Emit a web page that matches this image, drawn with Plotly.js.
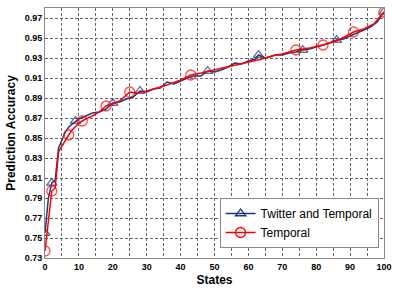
<!DOCTYPE html>
<html>
<head>
<meta charset="utf-8">
<script src="https://cdn.plot.ly/plotly-3.0.1.min.js"></script>
<style>html,body{margin:0;padding:0;background:#fff;}#chart{width:394px;height:291px;}</style>
</head>
<body>
<div id="chart"></div>
<script>
// Twitter and Temporal
const twX = [0,1,2,3,4,5,6,7,8,9,10,12,14,16,18,20,22,24,26,28,30,32,34,36,38,40,42,44,46,48,50,52,54,56,58,60,62,63,65,68,70,72,74,76,78,80,82,84,86,88,90,92,94,96,98,100];
const twY = [0.755,0.790,0.805,0.808,0.840,0.848,0.856,0.861,0.864,0.867,0.869,0.872,0.875,0.876,0.879,0.885,0.886,0.889,0.891,0.897,0.896,0.899,0.900,0.906,0.904,0.907,0.910,0.912,0.912,0.917,0.916,0.918,0.921,0.925,0.924,0.927,0.929,0.933,0.930,0.933,0.933,0.935,0.936,0.938,0.939,0.941,0.943,0.945,0.948,0.949,0.952,0.955,0.958,0.961,0.966,0.976];
const twMarked = [0,2,9,20,28,48,63,76,86,100];
// Temporal
const tpX = [0,1,2,3,4,5,6,7,8,9,10,11,12,14,16,18,20,22,24,25,27,30,33,36,40,43,46,50,54,57,60,64,68,70,74,78,82,86,90,91,94,97,100];
const tpY = [0.737,0.770,0.797,0.800,0.836,0.842,0.848,0.853,0.858,0.862,0.865,0.867,0.869,0.872,0.876,0.882,0.884,0.887,0.893,0.896,0.895,0.897,0.900,0.903,0.908,0.913,0.915,0.918,0.921,0.924,0.926,0.929,0.933,0.934,0.938,0.940,0.943,0.947,0.954,0.956,0.959,0.964,0.976];
const tpMarked = [0,2,7,11,18,25,43,74,82,91,100];

const xTitle = 'States';
const yTitle = 'Prediction Accuracy';
const names = ['Twitter and Temporal', 'Temporal'];

const blue = '#1f3a7a', red = '#ff0000';
function sizes(xs, marked, s) { return xs.map(v => marked.includes(v) ? s : 0); }

const traces = [
  {x: twX, y: twY, name: names[0], mode: 'lines+markers', type: 'scatter', showlegend: false,
   line: {color: blue, width: 1.5},
   marker: {symbol: 'triangle-up-open', size: sizes(twX, twMarked, 9), color: blue, line: {width: 1.3, color: blue}}},
  {x: tpX, y: tpY, name: names[1], mode: 'lines+markers', type: 'scatter', showlegend: false,
   line: {color: red, width: 1.5},
   marker: {symbol: 'circle-open', size: sizes(tpX, tpMarked, 10), color: red, line: {width: 1.3, color: red}}},
  // legend entries only (no data)
  {x: [null], y: [null], name: names[0], mode: 'lines+markers', type: 'scatter',
   line: {color: blue, width: 1.5}, marker: {symbol: 'triangle-up-open', size: 9, color: blue, line: {width: 1.3, color: blue}}},
  {x: [null], y: [null], name: names[1], mode: 'lines+markers', type: 'scatter',
   line: {color: red, width: 1.5}, marker: {symbol: 'circle-open', size: 10, color: red, line: {width: 1.3, color: red}}}
];

const tickFont = {family: 'Liberation Sans, Arial, sans-serif', size: 9, color: '#000', weight: 'bold'};
const layout = {
  width: 394, height: 291,
  margin: {l: 45, r: 10, t: 8, b: 33},
  paper_bgcolor: '#fff', plot_bgcolor: '#fff',
  showlegend: true,
  legend: {x: 0.515, y: 0.14, xanchor: 'left', yanchor: 'middle', bgcolor: '#fff', bordercolor: '#888', borderwidth: 1,
           font: {family: 'Liberation Sans, Arial, sans-serif', size: 12, color: '#000'}, itemwidth: 30, tracegroupgap: 0},
  xaxis: {range: [0, 100], dtick: 10, tick0: 0, showline: true, mirror: true, linecolor: '#888', linewidth: 1,
          showgrid: true, gridcolor: '#666', griddash: '3px,2px', gridwidth: 1, zeroline: false, ticks: '', tickfont: tickFont,
          minor: {dtick: 5, showgrid: true, gridcolor: '#666', griddash: '3px,2px', gridwidth: 1},
          title: {text: '<b>' + xTitle + '</b>', font: {family: 'Liberation Sans, Arial, sans-serif', size: 12, color: '#000'}, standoff: 4}},
  yaxis: {range: [0.73, 0.98], dtick: 0.02, tick0: 0.73, tickformat: '.2f', showline: true, mirror: true, linecolor: '#888', linewidth: 1,
          showgrid: true, gridcolor: '#666', griddash: '3px,2px', gridwidth: 1, zeroline: false, ticks: '', tickfont: tickFont,
          title: {text: '<b>' + yTitle + '</b>', font: {family: 'Liberation Sans, Arial, sans-serif', size: 12, color: '#000'}, standoff: 6}}
};
Plotly.newPlot('chart', traces, layout, {displayModeBar: false, staticPlot: true});
</script>
</body>
</html>
